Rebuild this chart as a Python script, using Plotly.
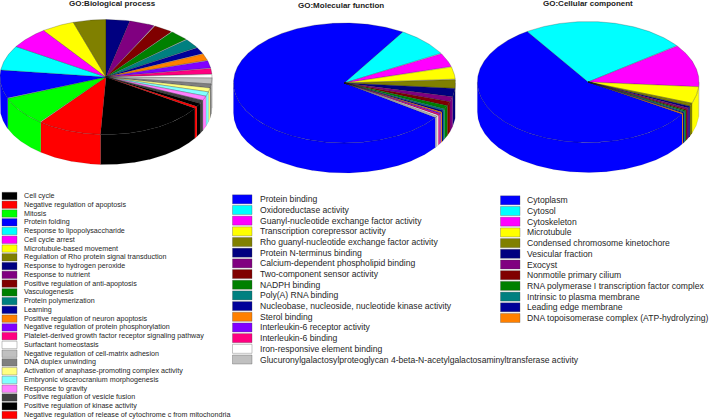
import numpy as np
import plotly.graph_objects as go

palette = ["#000000", "#ff0000", "#00ff00", "#0000ff", "#00ffff", "#ff00ff", "#ffff00", "#808000",
           "#000080", "#800080", "#800000", "#008000", "#008080", "#000099", "#ff8000", "#8000ff",
           "#ff0080", "#ffffff", "#c0c0c0", "#808080", "#ffff80", "#80ffff", "#ff80ff", "#404040",
           "#000000", "#ff0000"]
second_palette = palette[3:]

bp_labels = ["Cell cycle", "Negative regulation of apoptosis", "Mitosis", "Protein folding",
             "Response to lipopolysaccharide", "Cell cycle arrest", "Microtubule-based movement",
             "Regulation of Rho protein signal transduction", "Response to hydrogen peroxide",
             "Response to nutrient", "Positive regulation of anti-apoptosis", "Vasculogenesis",
             "Protein polymerization", "Learning", "Positive regulation of neuron apoptosis",
             "Negative regulation of protein phosphorylation",
             "Platelet-derived growth factor receptor signaling pathway", "Surfactant homeostasis",
             "Negative regulation of cell-matrix adhesion", "DNA duplex unwinding",
             "Activation of anaphase-promoting complex activity",
             "Embryonic viscerocranium morphogenesis", "Response to gravity",
             "Positive regulation of vesicle fusion", "Positive regulation of kinase activity",
             "Negative regulation of release of cytochrome c from mitochondria"]
bp_values = [60, 35, 30, 29, 25, 22, 18, 18, 13, 14, 11, 11, 10, 7, 7, 8, 6, 4, 6, 4, 4, 4.5, 4.5, 3.5, 3.5, 2]

mf_labels = ["Protein binding", "Oxidoreductase activity", "Guanyl-nucleotide exchange factor activity",
             "Transcription corepressor activity", "Rho guanyl-nucleotide exchange factor activity",
             "Protein N-terminus binding", "Calcium-dependent phospholipid binding",
             "Two-component sensor activity", "NADPH binding", "Poly(A) RNA binding",
             "Nucleobase, nucleoside, nucleotide kinase activity", "Sterol binding",
             "Interleukin-6 receptor activity", "Interleukin-6 binding", "Iron-responsive element binding",
             "Glucuronylgalactosylproteoglycan 4-beta-N-acetylgalactosaminyltransferase activity"]
mf_values = [267, 28.5, 13.8, 12.2, 9, 8, 5, 4, 3.6, 1.6, 1.4, 1.2, 1.2, 1.2, 1.2, 1.4]

cc_labels = ["Cytoplasm", "Cytosol", "Cytoskeleton", "Microtubule", "Condensed chromosome kinetochore",
             "Vesicular fraction", "Exocyst", "Nonmotile primary cilium",
             "RNA polymerase I transcription factor complex", "Intrinsic to plasma membrane",
             "Leading edge membrane", "DNA topoisomerase complex (ATP-hydrolyzing)"]
cc_values = [204.8, 86.5, 41.5, 16, 3, 2, 1.5, 1.2, 1, 1, 1, 0.8]
titles = ["GO:Biological process", "GO:Molecular function", "GO:Cellular component"]

panels = [
    dict(title=titles[0], labels=bp_labels, values=bp_values, pal=palette, start=33,
         cx=106, cy=77, a=106, b=57.5, depth=30, tx=112.5, ty=3.5,
         sx=2, sw=15, sh=7.4, lx=22, ly=196, step=8.76, fs=7.15),
    dict(title=titles[1], labels=mf_labels, values=mf_values, pal=second_palette, start=35,
         cx=344.5, cy=83, a=111, b=60, depth=30, tx=340.5, ty=5,
         sx=232.5, sw=19.5, sh=9, lx=257.5, ly=199.3, step=10.68, fs=8.6),
    dict(title=titles[2], labels=cc_labels, values=cc_values, pal=second_palette, start=32,
         cx=588.2, cy=82, a=110.8, b=60.5, depth=30, tx=588, ty=3.5,
         sx=500.5, sw=19.5, sh=9, lx=525, ly=200.3, step=10.7, fs=8.6),
]

EDGE = "rgba(20,20,20,0.6)"
WALL_EDGE = "rgba(20,20,20,0.25)"
fig = go.Figure()
shapes, annotations = [], []


def rim(a0, a1, p, drop=0.0):
    t = np.radians(np.linspace(a0, a1, max(int(abs(a1 - a0)) * 2 + 2, 2)))
    return p["cx"] + p["a"] * np.cos(t), p["cy"] + p["b"] * np.sin(t) + drop


for p in panels:
    vals = np.array(p["values"], dtype=float)
    spans = vals / vals.sum() * 360
    starts = p["start"] + np.concatenate([[0], np.cumsum(spans)[:-1]])
    # side walls first (only the near half of the cylinder shows)
    for s, sp, c, lab in zip(starts, spans, p["pal"], p["labels"]):
        for lo, hi in ((0, 180), (360, 540)):
            a0, a1 = max(s, lo), min(s + sp, hi)
            if a1 <= a0:
                continue
            xt, yt = rim(a0, a1, p)
            xb, yb = rim(a1, a0, p, p["depth"])
            fig.add_trace(go.Scatter(x=np.r_[xt, xb, xt[0]], y=np.r_[yt, yb, yt[0]], mode="lines",
                                     fill="toself", fillcolor=c, line=dict(color=WALL_EDGE, width=0.4),
                                     hoverinfo="text", text=lab, showlegend=False))
    # top face wedges
    for s, sp, c, lab in zip(starts, spans, p["pal"], p["labels"]):
        xr, yr = rim(s, s + sp, p)
        fig.add_trace(go.Scatter(x=np.r_[p["cx"], xr, p["cx"]], y=np.r_[p["cy"], yr, p["cy"]], mode="lines",
                                 fill="toself", fillcolor=c, line=dict(color=EDGE, width=0.4),
                                 hoverinfo="text", text=lab, showlegend=False))
    annotations.append(dict(x=p["tx"], y=p["ty"], text="<b>%s</b>" % p["title"], showarrow=False,
                            xanchor="center", yanchor="middle",
                            font=dict(family="Liberation Sans", size=8, color="#222222")))
    for i, (lab, c) in enumerate(zip(p["labels"], p["pal"])):
        y = p["ly"] + i * p["step"]
        shapes.append(dict(type="rect", xref="x", yref="y", x0=p["sx"], x1=p["sx"] + p["sw"],
                           y0=y - p["sh"] / 2, y1=y + p["sh"] / 2, fillcolor=c,
                           line=dict(color="rgba(60,60,60,0.6)", width=0.5)))
        annotations.append(dict(x=p["lx"], y=y, text=lab, showarrow=False, xanchor="left", yanchor="middle",
                                font=dict(family="Liberation Sans", size=p["fs"], color="#262626")))

fig.update_layout(width=709, height=420, autosize=False, margin=dict(l=0, r=0, t=0, b=0),
                  paper_bgcolor="white", plot_bgcolor="white", showlegend=False,
                  shapes=shapes, annotations=annotations,
                  xaxis=dict(range=[0, 709], visible=False, fixedrange=True),
                  yaxis=dict(range=[420, 0], visible=False, fixedrange=True))
fig.write_html("out.html", config=dict(displayModeBar=False),
               post_script="document.body.style.margin='0';")
